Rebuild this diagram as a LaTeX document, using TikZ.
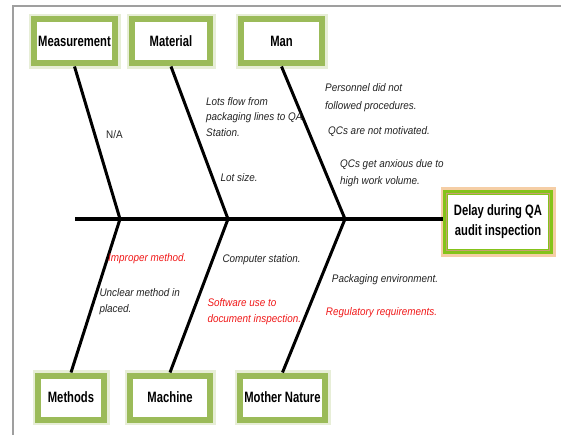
\documentclass[tikz,border=0pt]{standalone}
\usepackage{fontspec}
\setmainfont{Liberation Sans}
\newfontfamily\lblfont[FakeStretch=0.75]{Liberation Sans}
\newfontfamily\annfont[FakeStretch=0.9]{Liberation Sans}
\usetikzlibrary{shadows}
\definecolor{boxgreen}{HTML}{9BBB59}
\definecolor{effgreen}{HTML}{84C31A}
\definecolor{efforange}{HTML}{F2C28E}
\definecolor{efftan}{HTML}{C8A070}
\definecolor{anntext}{HTML}{222222}
\definecolor{annred}{HTML}{F01818}
\begin{document}
\begin{tikzpicture}[x=1pt,y=-1pt,
  catbox/.style={draw=boxgreen, line width=6pt, fill=white,
    inner sep=0pt, minimum height=44pt,
    font=\lblfont\bfseries\fontsize{15}{18}\selectfont,
    preaction={draw=boxgreen!70, line width=11pt, opacity=.35},
    drop shadow={shadow xshift=2pt, shadow yshift=-2.5pt, opacity=.25}},
  effbox/.style={draw=effgreen, line width=5pt, fill=white,
    inner sep=0pt, minimum width=105pt, minimum height=59pt, align=center,
    font=\lblfont\bfseries\fontsize{15}{20}\selectfont,
    preaction={draw=efforange, line width=10pt, opacity=.8},
    drop shadow={shadow xshift=2pt, shadow yshift=-2.5pt, opacity=.25}},
  rib/.style={line width=3pt, black},
  spine/.style={line width=4pt, black},
  ann/.style={anchor=west, inner sep=0pt, align=left, text=anntext,
    font=\annfont\itshape\fontsize{11}{16}\selectfont},
  annr/.style={ann, text=annred},
  frame/.style={draw=gray!75, line width=1.2pt}
]
\useasboundingbox (0,0) rectangle (561,435);
% frame
\draw[frame] (13,435) -- (13,6) -- (561,6);

% category boxes
\node[catbox, minimum width=81pt] (meas) at (74.5,41.5) {Measurement};
\node[catbox, minimum width=78pt] (mat)  at (171,41.5) {Material};
\node[catbox, minimum width=81pt] (man)  at (281.5,41.5) {Man};
\node[catbox, minimum width=66pt] (meth) at (71,397.5) {Methods};
\node[catbox, minimum width=80pt] (mach) at (170,397.5) {Machine};
\node[catbox, minimum width=85pt] (moth) at (282.5,397.5) {Mother Nature};

% effect box
\node[effbox] (eff) at (498,222) {Delay during QA\\audit inspection};
\draw[efftan, line width=1.2pt] ([shift={(3.2pt,-3.2pt)}]eff.north west) rectangle ([shift={(-3.2pt,3.2pt)}]eff.south east);

% spine
\coordinate (tail) at (75,219);
\coordinate (j1) at (120,219);
\coordinate (j2) at (228,219);
\coordinate (j3) at (345,219);
\draw[spine] (tail) -- (tail -| eff.west);

% ribs
\draw[rib] (meas.south) -- (j1) -- (meth.north);
\draw[rib] (mat.south) -- (j2) -- (mach.north);
\draw[rib] (man.south) -- (j3) -- (moth.north);

% annotations (top)
\node[ann, font=\annfont\fontsize{11}{16}\selectfont] (na) at (106,135) {N/A};
\node[ann, font=\annfont\itshape\fontsize{11}{15.7}\selectfont] (lots) at (206,116.8) {Lots flow from\\packaging lines to QA\\Station.};
\node[ann] (lotsize) at (220.5,177.7) {Lot size.};
\node[ann, font=\annfont\itshape\fontsize{11}{18}\selectfont] (pers) at (325,97.5) {Personnel did not\\followed procedures.};
\node[ann] (qcmot) at (328,131.7) {QCs are not motivated.};
\node[ann, font=\annfont\itshape\fontsize{11}{17.4}\selectfont] (qcanx) at (340,173) {QCs get anxious due to\\high work volume.};

% annotations (bottom)
\node[annr] (improper) at (108,258.3) {Improper method.};
\node[ann] (unclear) at (99.3,302) {Unclear method in\\placed.};
\node[ann] (comp) at (222.3,260) {Computer station.};
\node[annr, font=\annfont\itshape\fontsize{11}{15.5}\selectfont] (soft) at (207.3,311.7) {Software use to\\document inspection.};
\node[ann] (pack) at (331.7,280) {Packaging environment.};
\node[annr] (reg) at (325.7,312.7) {Regulatory requirements.};
\end{tikzpicture}
\end{document}
